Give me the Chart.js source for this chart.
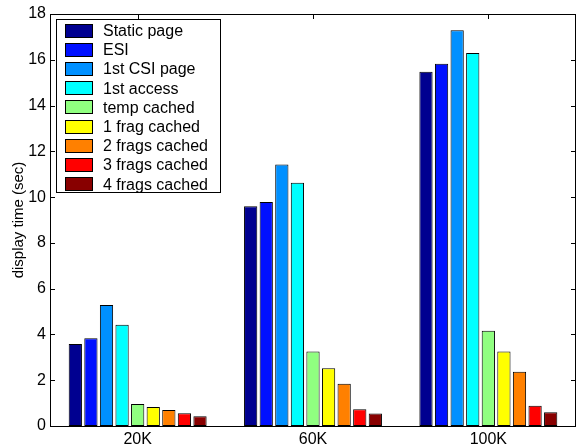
<!DOCTYPE html>
<html>
<head>
<meta charset="utf-8">
<script src="https://cdn.jsdelivr.net/npm/chart.js@4/dist/chart.umd.min.js"></script>
<style>
html,body{margin:0;padding:0;background:#fff;}
#wrap{position:relative;width:577px;height:448px;}
</style>
</head>
<body>
<div id="wrap"><canvas id="c" width="577" height="448"></canvas></div>
<script>
const categories = ['20K', '60K', '100K'];
const seriesNames = ['Static page', 'ESI', '1st CSI page', '1st access', 'temp cached',
  '1 frag cached', '2 frags cached', '3 frags cached', '4 frags cached'];
const staticPage   = [3.58, 9.60, 15.48];
const esi          = [3.83, 9.79, 15.83];
const firstCsiPage = [5.29, 11.42, 17.29];
const firstAccess  = [4.42, 10.63, 16.30];
const tempCached   = [0.96, 3.25, 4.16];
const frag1Cached  = [0.83, 2.52, 3.25];
const frags2Cached = [0.70, 1.85, 2.37];
const frags3Cached = [0.56, 0.73, 0.89];
const frags4Cached = [0.43, 0.55, 0.60];
const seriesColors = ['#000090', '#0010FF', '#0090FF', '#00FFFF', '#90FF80',
  '#FFFF00', '#FF8000', '#FF0000', '#880000'];
const yTicks = [0, 2, 4, 6, 8, 10, 12, 14, 16, 18];
const yTitle = 'display time (sec)';

const seriesValues = [staticPage, esi, firstCsiPage, firstAccess, tempCached,
  frag1Cached, frags2Cached, frags3Cached, frags4Cached];

const FONT = '"Liberation Sans", Arial, Helvetica, sans-serif';

const boxPlugin = {
  id: 'boxPlugin',
  beforeDatasetsDraw(chart) {
    const ctx = chart.ctx, a = chart.chartArea;
    const xs = chart.scales.x;
    ctx.save();
    ctx.strokeStyle = '#000';
    ctx.lineWidth = 1;
    ctx.beginPath();
    categories.forEach((c, i) => {
      const px = Math.round(xs.getPixelForValue(i)) + 0.5;
      ctx.moveTo(px, a.bottom); ctx.lineTo(px, a.bottom - 5);
      ctx.moveTo(px, a.top); ctx.lineTo(px, a.top + 5);
    });
    ctx.stroke();
    ctx.restore();
  },
  afterDatasetsDraw(chart) {
    const ctx = chart.ctx, a = chart.chartArea;
    const ys = chart.scales.y;
    ctx.save();
    ctx.strokeStyle = '#000';
    ctx.lineWidth = 1;
    ctx.beginPath();
    yTicks.forEach(v => {
      const py = Math.round(ys.getPixelForValue(v)) + 0.5;
      ctx.moveTo(a.left, py); ctx.lineTo(a.left + 5, py);
      ctx.moveTo(a.right, py); ctx.lineTo(a.right - 5, py);
    });
    ctx.stroke();
    ctx.strokeRect(Math.round(a.left) + 0.5, Math.round(a.top) + 0.5,
      Math.round(a.right - a.left) - 1, Math.round(a.bottom - a.top));
    // legend
    const lx = 56, ly = 19, lw = 164, lh = 173;
    ctx.fillStyle = '#fff';
    ctx.fillRect(lx, ly, lw, lh);
    ctx.strokeRect(lx + 0.5, ly + 0.5, lw, lh);
    ctx.font = '16px ' + FONT;
    ctx.textBaseline = 'middle';
    ctx.textAlign = 'left';
    chart.data.datasets.forEach((ds, i) => {
      const cy = 30.5 + i * 19.2;
      ctx.fillStyle = ds.backgroundColor;
      ctx.fillRect(65, Math.round(cy - 7), 28, 14);
      ctx.strokeStyle = '#000';
      ctx.strokeRect(65.5, Math.round(cy - 7) + 0.5, 27, 13);
      ctx.fillStyle = '#000';
      ctx.fillText(ds.label, 103, cy + 1);
    });
    ctx.restore();
  }
};

new Chart(document.getElementById('c'), {
  type: 'bar',
  data: {
    labels: categories,
    datasets: seriesNames.map((n, i) => ({
      label: n,
      data: seriesValues[i],
      backgroundColor: seriesColors[i],
      borderColor: '#000',
      borderWidth: 1,
      borderSkipped: false,
      categoryPercentage: 0.8,
      barPercentage: 0.85
    }))
  },
  options: {
    responsive: false,
    animation: false,
    devicePixelRatio: 1,
    layout: { padding: { left: 0, top: 14, right: 1, bottom: 0 } },
    plugins: { legend: { display: false }, tooltip: { enabled: false } },
    scales: {
      x: {
        grid: { display: false, drawTicks: false },
        border: { display: false },
        ticks: { color: '#000', font: { family: FONT, size: 16 }, padding: 4, maxRotation: 0 },
        afterFit(s) { s.height = 22; }
      },
      y: {
        min: 0, max: 18,
        afterBuildTicks(s) { s.ticks = yTicks.map(v => ({ value: v })); },
        grid: { display: false, drawTicks: false },
        border: { display: false },
        ticks: { color: '#000', font: { family: FONT, size: 16 }, padding: 4 },
        title: { display: true, text: yTitle, color: '#000',
          font: { family: FONT, size: 15 }, padding: { top: 10, bottom: 0 } },
        afterFit(s) { s.width = 50; }
      }
    }
  },
  plugins: [boxPlugin]
});
</script>
</body>
</html>
